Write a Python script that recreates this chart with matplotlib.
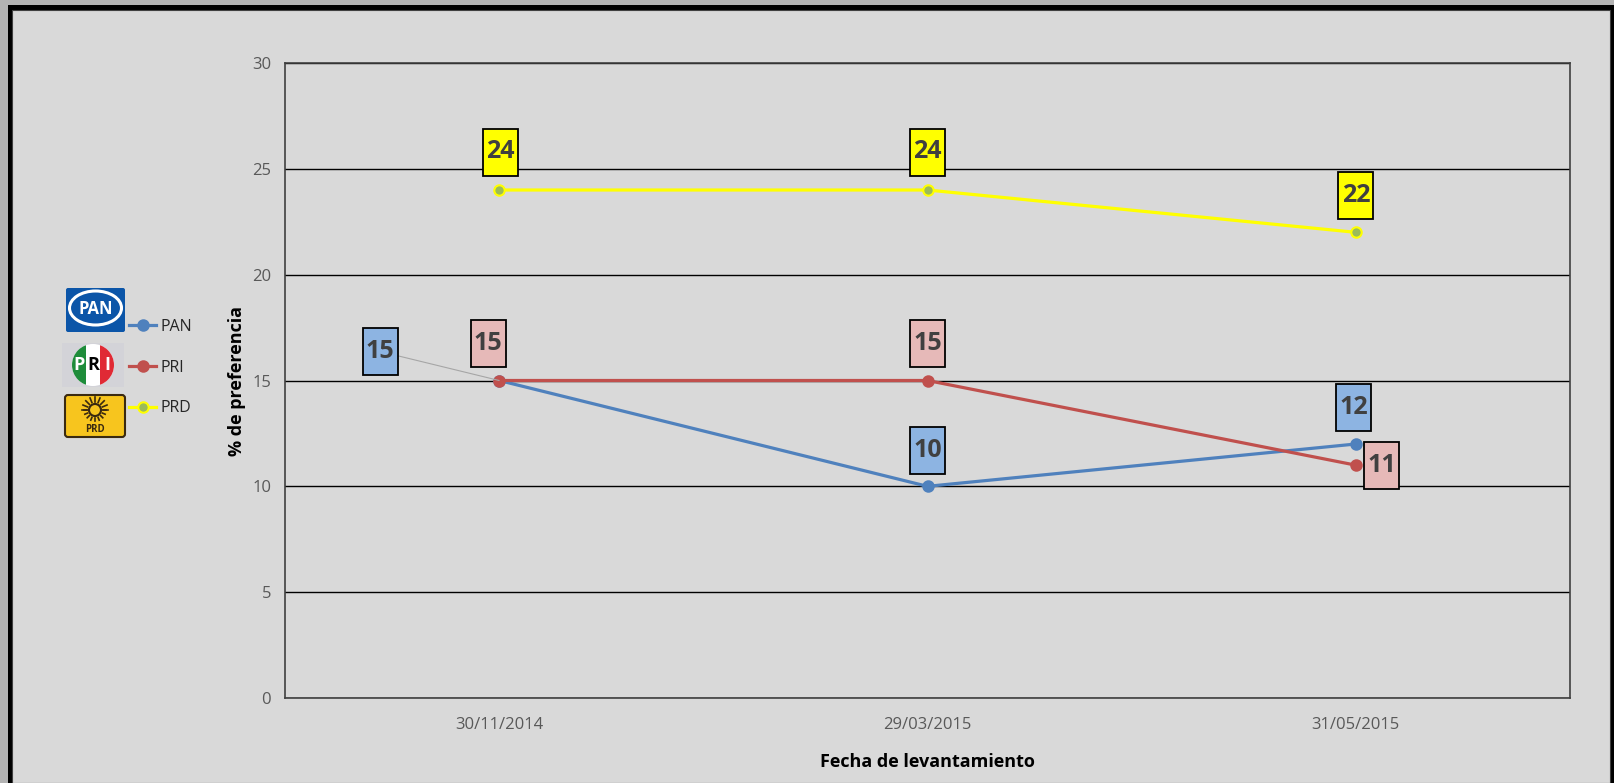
import matplotlib.pyplot as plt
import matplotlib.font_manager as fm
from matplotlib.patches import Rectangle, FancyBboxPatch, Ellipse, Circle
from matplotlib.path import Path
from matplotlib.transforms import Affine2D
import numpy as np

# Data
fechas = ['30/11/2014', '29/03/2015', '31/05/2015']
pan = [15, 10, 12]
pri = [15, 15, 11]
prd = [24, 24, 22]

# label offsets (pixels) relative to each point
pan_off = [(-119, 29), (0, 36), (-2, 37)]
pri_off = [(-11, 37), (0, 37), (26, 0)]
prd_off = [(1, 38), (0, 38), (0, 37)]

names = {f.name for f in fm.fontManager.ttflist}
font = 'Liberation Sans Narrow' if 'Liberation Sans Narrow' in names else 'Open Sans'
plt.rcParams['font.family'] = [font, 'DejaVu Sans']

W, H = 1614, 783
fig = plt.figure(figsize=(W / 100, H / 100), dpi=100, facecolor='#b3b3b3')

# frame around the picture
fig.add_artist(Rectangle((8 / W, 0), 1 - 8 / W, 1 - 5 / H, transform=fig.transFigure,
                         facecolor='black', edgecolor='none', zorder=-3))
fig.add_artist(Rectangle((12 / W, 0), (1610 - 12) / W, 1 - 10 / H, transform=fig.transFigure,
                         facecolor='#d9d9d9', edgecolor='#404040', lw=0.8, zorder=-2))

ax = fig.add_axes([285 / W, 1 - 698 / H, 1285 / W, 635 / H])
ax.set_facecolor('#d9d9d9')
x = np.arange(len(fechas))


def label_box(x0, y0, width, height, mutation_size):
    # fixed size box centred on the text
    cx, cy = x0 + width / 2, y0 + height / 2
    bw, bh = 1.40 * mutation_size, 1.88 * mutation_size
    return Path.unit_rectangle().transformed(
        Affine2D().scale(bw, bh).translate(cx - bw / 2, cy - bh / 2))


series = [
    ('PAN', pan, pan_off, '#4f81bd', '#4f81bd', '#4f81bd', '#8db4e2'),
    ('PRI', pri, pri_off, '#c0504d', '#c0504d', '#c0504d', '#e6b9b8'),
    ('PRD', prd, prd_off, '#ffff00', '#9bbb59', '#ffff00', '#ffff00'),
]

handles = []
for name, vals, offs, lc, mfc, mec, boxc in series:
    ln, = ax.plot(x, vals, color=lc, lw=2.3, marker='o', ms=7.5,
                  mfc=mfc, mec=mec, mew=1.5, label=name, zorder=3)
    handles.append(ln)
    for xi, v, (dx, dy) in zip(x, vals, offs):
        arrow = None
        if abs(dx) > 60:
            arrow = dict(arrowstyle='-', color='#a6a6a6', lw=0.8, shrinkA=0, shrinkB=0)
        ax.annotate(str(v), (xi, v), xytext=(dx, dy), textcoords='offset pixels',
                    ha='center', va='center', fontsize=18, fontweight='bold', color='#404040',
                    bbox=dict(boxstyle=label_box, facecolor=boxc, edgecolor='black', lw=1.3),
                    arrowprops=arrow, zorder=5)

ax.set_xlim(-0.5, 2.5)
ax.set_ylim(0, 30)
ax.set_yticks(range(0, 31, 5))
ax.set_xticks(x)
ax.set_xticklabels(fechas)
ax.yaxis.grid(True, color='black', lw=1)
ax.set_axisbelow(True)
ax.tick_params(length=0, labelsize=12, labelcolor='#595959')
ax.tick_params(axis='y', pad=10)
ax.tick_params(axis='x', pad=14)
for s in ax.spines.values():
    s.set_color('#404040')
    s.set_linewidth(1.2)

ax.set_xlabel('Fecha de levantamiento', fontsize=13, fontweight='bold', labelpad=14)
ax.set_ylabel('% de preferencia', fontsize=13, fontweight='bold', labelpad=4)

leg = fig.legend(handles, ['PAN', 'PRI', 'PRD'], loc='upper left',
                 bbox_to_anchor=(121 / W, 1 - 311 / H), frameon=False, fontsize=11.5,
                 handlelength=1.7, labelspacing=1.55, handletextpad=0.3, borderpad=0)
for t in leg.get_texts():
    t.set_color('#262626')

# party logos next to the legend
lg = fig.add_axes([55 / W, 1 - 445 / H, 75 / W, 165 / H])
lg.set_xlim(55, 130)
lg.set_ylim(445, 280)
lg.axis('off')

lg.add_patch(FancyBboxPatch((66, 288), 59, 44, boxstyle='round,pad=0,rounding_size=2',
                            facecolor='#0b55a8', edgecolor='none'))
lg.add_patch(Ellipse((95.5, 308), 52, 34, facecolor='#0b55a8', edgecolor='white', lw=2.2))
lg.text(95.5, 309, 'PAN', ha='center', va='center', fontsize=12, fontweight='bold', color='white')

lg.add_patch(Rectangle((62, 343), 62, 44, facecolor='#d3d3d8', edgecolor='none'))
disc = Circle((93, 365), 21, facecolor='white', edgecolor='none')
lg.add_patch(disc)
for x0, c in [(72, '#1e8c3a'), (100, '#e02a35')]:
    stripe = Rectangle((x0, 344), 14, 42, facecolor=c, edgecolor='none')
    lg.add_patch(stripe)
    stripe.set_clip_path(disc)
for xx, ch, cc in [(79, 'P', 'white'), (93, 'R', 'black'), (107, 'I', 'white')]:
    lg.text(xx, 365, ch, ha='center', va='center', fontsize=13, fontweight='bold', color=cc)

lg.add_patch(FancyBboxPatch((65, 395), 60, 42, boxstyle='round,pad=0,rounding_size=3',
                            facecolor='#f7c51e', edgecolor='#3a2a10', lw=1.5))
lg.add_patch(Circle((95, 410), 6, facecolor='none', edgecolor='#3a2a10', lw=1.5))
for a in np.linspace(0, np.pi, 9):
    lg.plot([95 + 8 * np.cos(a), 95 + 13 * np.cos(a)], [410 - 8 * np.sin(a), 410 - 13 * np.sin(a)],
            color='#3a2a10', lw=1.2)
    lg.plot([95 + 8 * np.cos(a), 95 + 11 * np.cos(a)], [410 + 8 * np.sin(a), 410 + 11 * np.sin(a)],
            color='#3a2a10', lw=1.2)
lg.text(95, 430, 'PRD', ha='center', va='center', fontsize=7, fontweight='bold', color='#3a2a10')

plt.savefig('out.png', dpi=100, facecolor=fig.get_facecolor())
